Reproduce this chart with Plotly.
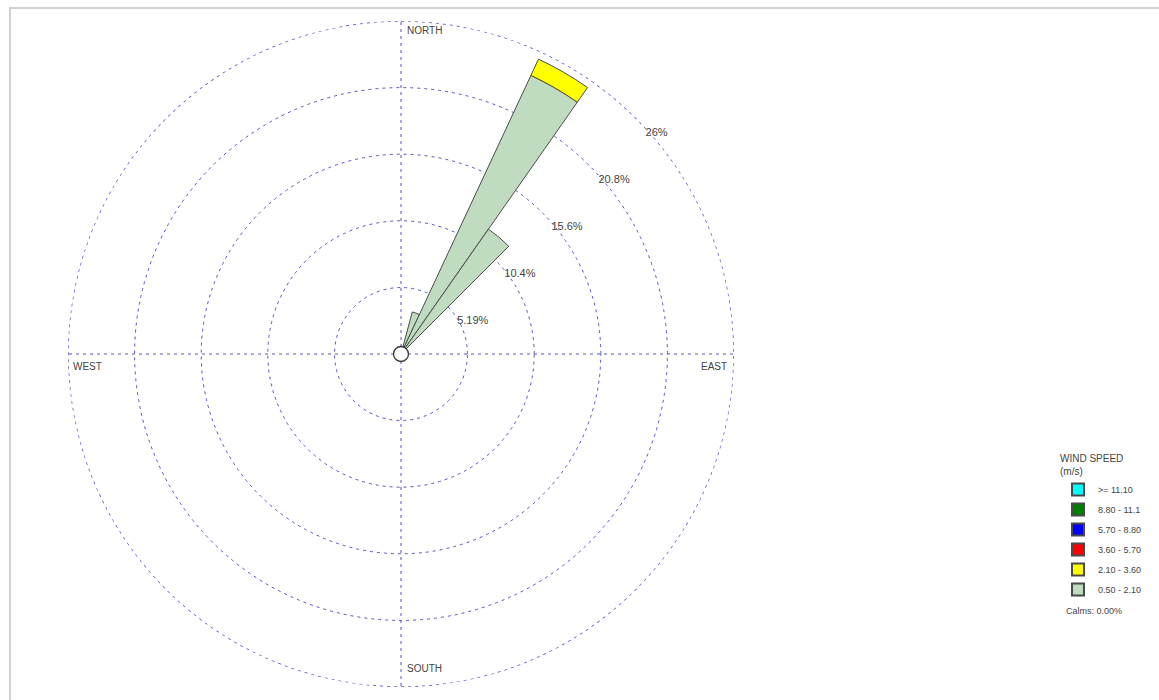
import plotly.graph_objects as go

# Wind rose: frequency (%) by direction sector (degrees from north) and speed class
directions = [20, 30, 40]
sector_width = 10
speed_classes = [">= 11.10", "8.80 - 11.1", "5.70 - 8.80", "3.60 - 5.70", "2.10 - 3.60", "0.50 - 2.10"]
class_colors = ["#00ffff", "#008000", "#0000ff", "#ff0000", "#ffff00", "#c0dcc0"]
freq_050_210 = [3.4, 24.0, 11.9]
freq_210_360 = [0.0, 1.4, 0.0]
freq_360_570 = [0.0, 0.0, 0.0]
freq_570_880 = [0.0, 0.0, 0.0]
freq_880_1110 = [0.0, 0.0, 0.0]
freq_ge_1110 = [0.0, 0.0, 0.0]
calms_pct = 0.00

ring_values = [5.19, 10.4, 15.6, 20.8, 26]
ring_labels = ["5.19%", "10.4%", "15.6%", "20.8%", "26%"]
ring_label_bearing = 45
compass_labels = ["NORTH", "EAST", "SOUTH", "WEST"]

# stacked from the lowest speed class outward
stack = [
    ("0.50 - 2.10", freq_050_210),
    ("2.10 - 3.60", freq_210_360),
    ("3.60 - 5.70", freq_360_570),
    ("5.70 - 8.80", freq_570_880),
    ("8.80 - 11.1", freq_880_1110),
    (">= 11.10", freq_ge_1110),
]
color_of = dict(zip(speed_classes, class_colors))
grid_col = "#5454c0"
grid_dash = "3px,4px"
grid_w = 1.4

fig = go.Figure()

# outer ring (the grid skips the circle at the edge of the radial range)
outer_theta = list(range(0, 361, 2))
fig.add_trace(go.Scatterpolar(
    r=[ring_values[-1]] * len(outer_theta), theta=outer_theta, mode="lines",
    line=dict(color=grid_col, width=grid_w, dash=grid_dash),
    showlegend=False, hoverinfo="skip",
))

for rank, (name, vals) in enumerate(stack):
    fig.add_trace(go.Barpolar(
        r=vals, theta=directions, width=[sector_width] * len(directions),
        name=name, legendrank=100 - rank, legendgroup=name,
        marker=dict(color=color_of[name], line=dict(color="#4a4a4a", width=1)),
        hoverinfo="skip",
    ))

# ring labels (invisible anchor markers push the text off the ring)
fig.add_trace(go.Scatterpolar(
    r=ring_values, theta=[ring_label_bearing] * len(ring_values), mode="markers+text",
    marker=dict(size=13, opacity=0),
    text=ring_labels, textposition="bottom right",
    textfont=dict(size=11, color="#444444"),
    showlegend=False, hoverinfo="skip",
))

# calm circle in the middle
fig.add_trace(go.Scatterpolar(
    r=[0], theta=[0], mode="markers", showlegend=False, hoverinfo="skip",
    marker=dict(size=15, color="white", line=dict(color="#333333", width=1.3)),
))

fig.update_layout(
    width=1159, height=700,
    margin=dict(l=0, r=0, t=0, b=0),
    paper_bgcolor="white",
    font=dict(family="Liberation Sans, Arial, sans-serif", size=11, color="#444444"),
    polar=dict(
        domain=dict(x=[68 / 1159, 734 / 1159], y=[13 / 700, 679 / 700]),
        bgcolor="white",
        barmode="stack",
        radialaxis=dict(
            range=[0, ring_values[-1]], tickvals=ring_values, showticklabels=False,
            showline=False, ticks="", gridcolor=grid_col, griddash=grid_dash, gridwidth=grid_w,
        ),
        angularaxis=dict(
            rotation=90, direction="clockwise",
            tickvals=[0, 90, 180, 270], showticklabels=False, ticks="",
            showline=False, gridcolor=grid_col, griddash=grid_dash, gridwidth=grid_w,
        ),
    ),
    legend=dict(
        title=dict(text="WIND SPEED<br>(m/s)", font=dict(size=10, color="#444444")),
        x=1058 / 1159, y=1 - 449 / 700, xanchor="left", yanchor="top",
        font=dict(size=9, color="#444444"), tracegroupgap=1,
        itemsizing="constant", bgcolor="rgba(0,0,0,0)",
    ),
    annotations=[
        dict(text="Calms: %.2f%%" % calms_pct, x=1064 / 1159, y=1 - 611 / 700,
             xref="paper", yref="paper", xanchor="left", yanchor="middle",
             showarrow=False, font=dict(size=9, color="#444444")),
        dict(text=compass_labels[0], x=405 / 1159, y=1 - 31 / 700, xref="paper", yref="paper",
             xanchor="left", yanchor="middle", showarrow=False, font=dict(size=10)),
        dict(text=compass_labels[1], x=729 / 1159, y=1 - 366 / 700, xref="paper", yref="paper",
             xanchor="right", yanchor="middle", showarrow=False, font=dict(size=10)),
        dict(text=compass_labels[2], x=405 / 1159, y=1 - 668 / 700, xref="paper", yref="paper",
             xanchor="left", yanchor="middle", showarrow=False, font=dict(size=10)),
        dict(text=compass_labels[3], x=71 / 1159, y=1 - 366 / 700, xref="paper", yref="paper",
             xanchor="left", yanchor="middle", showarrow=False, font=dict(size=10)),
    ],
    shapes=[
        dict(type="rect", xref="paper", yref="paper", x0=10 / 1159, x1=1.01, y0=-0.01, y1=1 - 8 / 700,
             line=dict(color="#d0d0d0", width=2), layer="below"),
    ],
)

fig.write_html("out.html")
